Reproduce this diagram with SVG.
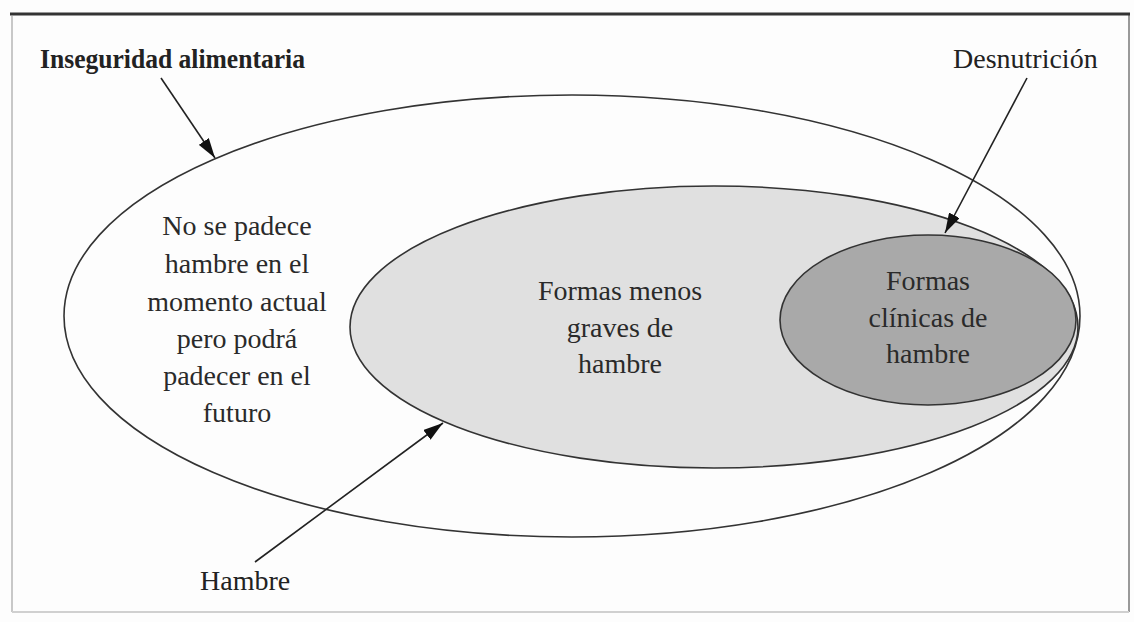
<svg xmlns="http://www.w3.org/2000/svg" width="1134" height="622" viewBox="0 0 1134 622">
  <style>
    .ring { stroke: #333; stroke-width: 1.6; }
    .lbl { font-family: "Liberation Serif", "DejaVu Serif", serif; font-size: 28px; fill: #222; }
    .lbl.strong { font-size: 27px; font-weight: bold; }
    .body { font-family: "Liberation Serif", "DejaVu Serif", serif; font-size: 28px; fill: #2a2a2a; text-anchor: middle; }
    .conn { stroke: #222; stroke-width: 1.6; fill: none; marker-end: url(#head); }
  </style>
  <defs>
    <marker id="head" viewBox="0 0 20 12" refX="20" refY="6" markerWidth="20" markerHeight="12" markerUnits="userSpaceOnUse" orient="auto">
      <path d="M0,0 L20,6 L0,12 Z" fill="#111"/>
    </marker>
  </defs>

  <!-- page frame -->
  <rect x="0" y="0" width="1134" height="622" fill="#fdfdfd"/>
  <line x1="12" y1="16" x2="12" y2="612" stroke="#c8c8c8" stroke-width="2"/>
  <line x1="1129" y1="14" x2="1129" y2="612" stroke="#999" stroke-width="2"/>
  <line x1="12" y1="612" x2="1129" y2="612" stroke="#d0d0d0" stroke-width="2"/>
  <line x1="10" y1="14" x2="1130" y2="14" stroke="#333" stroke-width="3"/>

  <!-- food insecurity: outer set -->
  <g id="inseguridad">
    <ellipse class="ring" cx="572" cy="316" rx="508" ry="221" fill="#fdfdfd"/>
    <text class="body" x="237" y="235">No se padece</text>
    <text class="body" x="237" y="273">hambre en el</text>
    <text class="body" x="237" y="311">momento actual</text>
    <text class="body" x="237" y="348">pero podrá</text>
    <text class="body" x="237" y="385">padecer en el</text>
    <text class="body" x="237" y="422">futuro</text>
  </g>

  <!-- hunger: middle set -->
  <g id="hambre-set">
    <ellipse class="ring" cx="714" cy="327" rx="364" ry="141" fill="#e0e0e0"/>
    <text class="body" x="620" y="300">Formas menos</text>
    <text class="body" x="620" y="337">graves de</text>
    <text class="body" x="620" y="373">hambre</text>
  </g>

  <!-- undernutrition: inner set -->
  <g id="desnutricion-set">
    <ellipse class="ring" cx="928" cy="320" rx="148" ry="85" fill="#a9a9a9"/>
    <text class="body" x="928" y="290">Formas</text>
    <text class="body" x="928" y="327">clínicas de</text>
    <text class="body" x="928" y="363">hambre</text>
  </g>

  <!-- callout labels -->
  <g id="label-inseguridad">
    <text class="lbl strong" x="40" y="68" textLength="265" lengthAdjust="spacingAndGlyphs">Inseguridad alimentaria</text>
  </g>
  <g id="label-desnutricion">
    <text class="lbl" x="953" y="68">Desnutrición</text>
  </g>
  <g id="label-hambre">
    <text class="lbl" x="200" y="590">Hambre</text>
  </g>

  <!-- pointer arrows -->
  <g id="connectors">
    <line class="conn" x1="161" y1="78" x2="215" y2="158"/>
    <line class="conn" x1="1027" y1="78" x2="945" y2="233"/>
    <line class="conn" x1="255" y1="562" x2="443" y2="423"/>
  </g>
</svg>
